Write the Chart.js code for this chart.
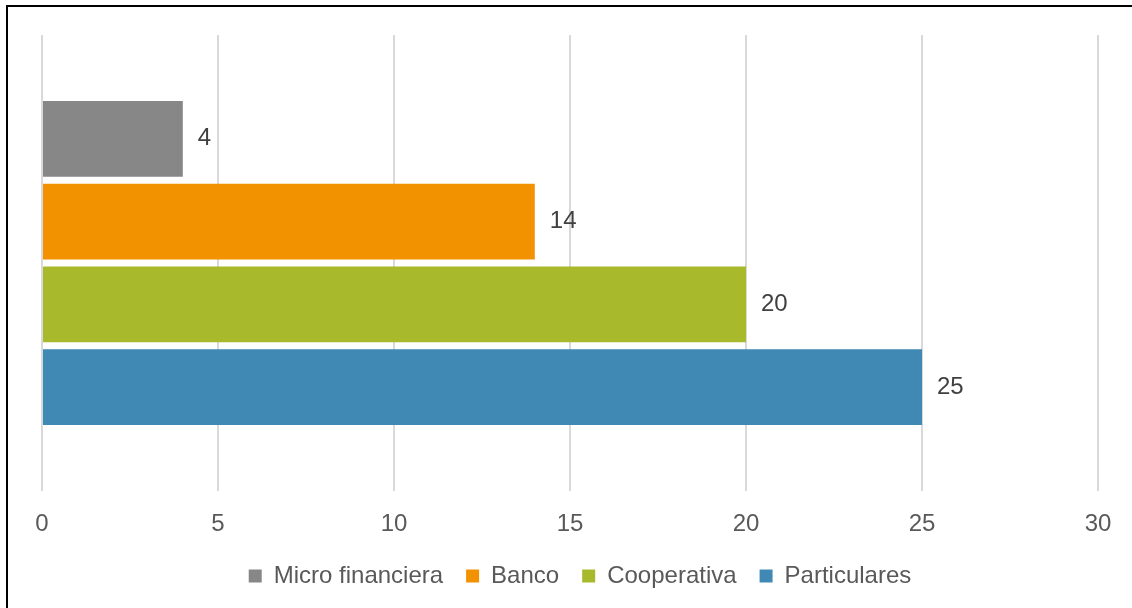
<!DOCTYPE html>
<html>
<head>
<meta charset="utf-8">
<script src="https://cdn.jsdelivr.net/npm/chart.js@4"></script>
<style>
  html, body { margin: 0; padding: 0; background: #fff; }
  #wrap { position: relative; width: 1132px; height: 608px; overflow: hidden; }
  #frame { position: absolute; left: 6px; top: 5px; right: -10px; bottom: -10px;
           border-left: 2px solid #000; border-top: 2px solid #000; pointer-events: none; }
  canvas { position: absolute; left: 0; top: 0; }
</style>
</head>
<body>
<div id="wrap">
  <canvas id="chart" width="1132" height="608"></canvas>
  <div id="frame"></div>
</div>
<script>
// one category, one bar per lender type
const categories = ['']
const seriesNames = ['Micro financiera', 'Banco', 'Cooperativa', 'Particulares']
const seriesValues = [[4], [14], [20], [25]]
const seriesColors = ['#878787', '#F39200', '#A8B92B', '#3F89B4']
const xTicks = [0, 5, 10, 15, 20, 25, 30]

const FONT = "'Liberation Sans', Arial, sans-serif"

// value labels just right of each bar end
const barValues = {
  id: 'barValues',
  afterDatasetsDraw(chart) {
    const ctx = chart.ctx
    ctx.save()
    ctx.font = `24px ${FONT}`
    ctx.fillStyle = '#404040'
    ctx.textAlign = 'left'
    ctx.textBaseline = 'middle'
    chart.data.datasets.forEach((ds, i) => {
      chart.getDatasetMeta(i).data.forEach((bar, j) => {
        ctx.fillText(String(ds.data[j]), bar.x + 15, bar.y)
      })
    })
    ctx.restore()
  }
}

// legend row sits a bit right of centre (trailing padding pulls it left)
const legendNudge = {
  id: 'legendNudge',
  afterLayout(chart) {
    if (!chart.legend) return
    chart.legend.left += 10
    chart.legend.right += 10
  }
}

const datasets = seriesNames.map((name, i) => ({
  label: name,
  data: seriesValues[i],
  backgroundColor: seriesColors[i],
  borderWidth: 0,
  categoryPercentage: 0.726,
  barPercentage: 0.915
}))

new Chart(document.getElementById('chart'), {
  type: 'bar',
  data: { labels: categories, datasets },
  options: {
    indexAxis: 'y',
    responsive: false,
    animation: false,
    layout: { padding: { left: 42, right: 34, top: 35, bottom: 10 } },
    scales: {
      x: {
        min: xTicks[0],
        max: xTicks[xTicks.length - 1],
        afterBuildTicks: (axis) => { axis.ticks = xTicks.map(v => ({ value: v })) },
        afterFit: (axis) => { axis.height = 50 },
        grid: { color: '#D9D9D9', lineWidth: 2, drawTicks: false },
        border: { display: false },
        ticks: { color: '#595959', padding: 19, font: { family: FONT, size: 24 } }
      },
      y: { display: false }
    },
    plugins: {
      legend: {
        position: 'bottom',
        labels: {
          color: '#595959',
          boxWidth: 13,
          boxHeight: 13,
          padding: 23,
          font: { family: FONT, size: 24 }
        }
      },
      tooltip: { enabled: false }
    }
  },
  plugins: [barValues, legendNudge]
})
</script>
</body>
</html>
